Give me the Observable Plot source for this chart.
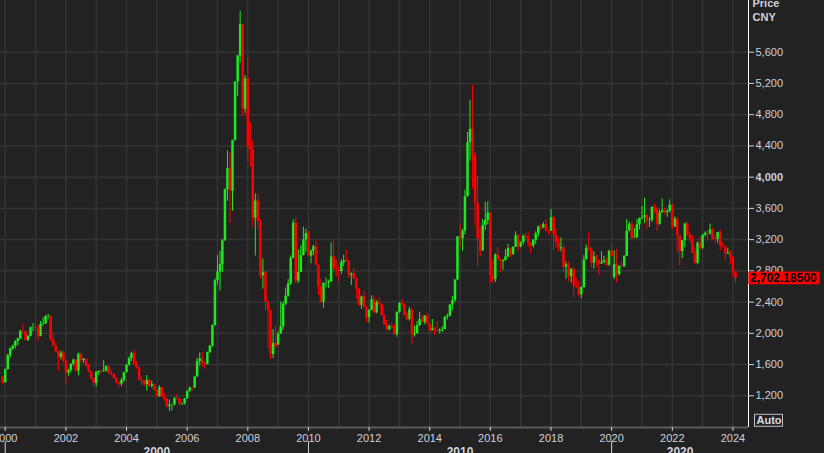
<!DOCTYPE html>
<html><head><meta charset="utf-8">
<script src="https://cdn.jsdelivr.net/npm/d3@7"></script>
<script src="https://cdn.jsdelivr.net/npm/@observablehq/plot@0.6"></script>
<style>
html,body{margin:0;padding:0;background:#222222;overflow:hidden;}
#chart{width:824px;height:453px;}
</style></head><body><div id="chart"></div>
<script>
// Monthly candles of the index, first candle = December 1999
const startYear = 1999, startMonth = 11;
const open = [
1447,
1368,1535,1715,1800,1836,1895,1928,2024,2022,1910,1961,2071,
2073,2066,1959,2113,2119,2214,2218,1920,1834,1765,1690,1747,
1646,1492,1525,1603,1657,1516,1733,1651,1669,1582,1507,1421,
1358,1500,1512,1511,1521,1576,1486,1477,1421,1367,1348,1397,
1497,1591,1675,1742,1596,1556,1399,1386,1342,1397,1321,1341,
1267,1192,1306,1181,1159,1061,1081,1083,1163,1156,1093,1099,
1161,1258,1299,1298,1440,1641,1672,1613,1601,1752,1838,2099,
2675,2786,2881,3184,3841,4110,3821,4471,5219,5552,5955,4872,
5262,4383,4349,3473,3693,3433,2736,2776,2397,2294,1729,1871,
1850,1991,2083,2373,2478,2633,2959,3412,2668,2779,2996,3195,
3277,2989,3052,3109,2871,2592,2398,2638,2639,2656,2979,2820,
2808,2791,2905,2928,2912,2743,2762,2702,2567,2359,2468,2333,
2199,2293,2428,2263,2396,2372,2225,2104,2048,2086,2069,1980,
2269,2385,2366,2237,2178,2301,1979,1994,2098,2175,2142,2221,
2116,2033,2056,2033,2026,2039,2048,2202,2217,2364,2420,2683,
3235,3210,3310,3748,4442,4612,4277,3664,3206,3053,3383,3445,
3539,2738,2688,3004,2938,2917,2930,2979,3085,3005,3100,3250,
3104,3159,3242,3223,3155,3117,3192,3273,3361,3349,3393,3317,
3307,3481,3259,3169,3082,3095,2847,2876,2725,2821,2603,2588,
2494,2585,2941,3091,3078,2899,2979,2933,2886,2905,2929,2872,
3050,2716,2880,2750,2860,2852,2985,3310,3396,3218,3225,3392,
3473,3483,3509,3442,3447,3615,3591,3397,3544,3568,3547,3564,
3640,3361,3462,3252,3047,3186,3399,3253,3202,3024,2893,3151,
3089,3256,3280,3273,3323,3205,3202,3291,3120,3110,3019,3030,
2975,2789
];
const high = [
1452,
1546,1730,1817,1850,1907,1940,2040,2115,2030,1975,2080,2125,
2132,2100,2150,2200,2230,2245,2225,1995,1880,1780,1775,1776,
1650,1540,1612,1670,1665,1748,1740,1680,1675,1600,1520,1430,
1510,1520,1530,1650,1580,1580,1530,1480,1430,1380,1425,1500,
1600,1700,1760,1783,1640,1570,1440,1400,1460,1420,1390,1350,
1270,1330,1310,1230,1160,1146,1090,1180,1225,1170,1105,1165,
1260,1310,1305,1450,1680,1750,1757,1630,1760,1845,2110,2699,
2995,3050,3200,3850,4335,4312,4472,5219,5562,6124,5956,5300,
5522,4696,4473,3786,3786,3459,2953,2801,2410,2300,2051,2100,
2015,2402,2400,2580,2688,2990,3455,3478,3068,3123,3361,3334,
3307,3065,3128,3181,2873,2689,2650,2708,2682,3160,3186,2941,
2856,2942,3001,3067,2932,2773,2827,2710,2570,2478,2536,2338,
2305,2479,2478,2417,2453,2374,2238,2165,2105,2132,2111,2276,
2393,2444,2372,2269,2334,2314,2092,2149,2270,2243,2225,2260,
2120,2177,2076,2146,2061,2088,2218,2248,2364,2474,2683,3239,
3406,3335,3835,4572,4986,5178,4317,4006,3358,3458,3679,3684,
3539,2934,3018,3097,2952,2945,3070,3140,3100,3112,3301,3265,
3174,3262,3284,3295,3157,3200,3301,3374,3392,3418,3450,3318,
3587,3495,3333,3220,3220,3124,2916,2915,2827,2838,2704,2666,
2602,2997,3130,3288,3097,3044,2999,2940,3047,2986,2961,3063,
3128,3058,3074,2861,2915,2995,3458,3426,3425,3347,3456,3474,
3626,3732,3527,3482,3625,3654,3609,3582,3723,3604,3579,3708,
3651,3491,3492,3253,3189,3414,3425,3296,3250,3101,3173,3227,
3268,3300,3322,3398,3347,3258,3292,3322,3164,3117,3090,3060,
2977,2790
];
const low = [
1341,
1361,1527,1680,1775,1800,1840,1920,1990,1900,1895,1955,2020,
2030,1893,1955,2090,2115,2180,1900,1825,1750,1514,1660,1620,
1339,1450,1490,1580,1500,1455,1620,1615,1565,1490,1400,1311,
1312,1460,1480,1500,1500,1480,1450,1410,1355,1307,1316,1370,
1490,1580,1640,1590,1540,1390,1330,1320,1260,1300,1300,1259,
1177,1180,1180,1131,1043,998,1004,1070,1140,1070,1075,1080,
1160,1240,1255,1295,1435,1580,1565,1540,1595,1740,1820,2090,
2617,2541,2780,3180,3690,3404,3563,4460,5033,5460,4778,4812,
4196,4123,3357,2990,3333,2693,2566,2284,1802,1664,1679,1814,
1844,1991,2037,2350,2461,2612,2959,2639,2640,2779,2990,3039,
2987,2890,2995,2862,2481,2382,2319,2580,2573,2656,2774,2721,
2661,2753,2854,2907,2705,2610,2683,2437,2344,2307,2319,2134,
2132,2287,2242,2250,2348,2219,2099,2033,2029,2058,1974,1949,
2254,2339,2216,2162,2161,1849,1951,1987,2084,2134,2110,2108,
1985,2030,1974,2013,1991,2010,2045,2169,2217,2288,2391,2673,
3095,3050,3261,3748,4205,3848,3373,2851,2983,3053,3315,3387,
2638,2639,2649,2930,2781,2807,2929,2961,2969,3005,3100,3045,
3095,3130,3188,3097,3017,3092,3139,3232,3318,3339,3294,3255,
3305,3063,3091,3041,3042,2782,2691,2653,2644,2449,2575,2463,
2440,2578,2939,3046,2838,2821,2846,2733,2885,2893,2857,2857,
2968,2686,2647,2734,2833,2846,2985,3300,3202,3218,3209,3325,
3453,3403,3328,3355,3416,3532,3313,3381,3535,3512,3485,3540,
3329,3357,3023,2863,2954,3096,3240,3155,3021,2885,2885,3054,
3073,3233,3175,3254,3194,3149,3149,3053,3094,2924,3008,2882,
2724,2635
];
const close = [
1367,
1535,1715,1800,1836,1895,1928,2024,2022,1910,1961,2071,2073,
2066,1959,2113,2119,2214,2218,1920,1834,1765,1690,1747,1646,
1492,1525,1603,1657,1516,1733,1651,1669,1582,1507,1421,1358,
1500,1512,1511,1521,1576,1486,1477,1421,1367,1348,1397,1497,
1591,1675,1742,1596,1556,1399,1386,1342,1397,1321,1341,1267,
1192,1306,1181,1159,1061,1081,1083,1163,1156,1093,1099,1161,
1258,1299,1298,1440,1641,1672,1613,1601,1752,1838,2099,2675,
2786,2881,3184,3841,4110,3821,4471,5219,5552,5955,4872,5262,
4383,4349,3473,3693,3433,2736,2776,2397,2294,1729,1871,1821,
1991,2083,2373,2478,2633,2959,3412,2668,2779,2996,3195,3277,
2989,3052,3109,2871,2592,2398,2638,2639,2656,2979,2820,2808,
2791,2905,2928,2912,2743,2762,2702,2567,2359,2468,2333,2199,
2293,2428,2263,2396,2372,2225,2104,2048,2086,2069,1980,2269,
2385,2366,2237,2178,2301,1979,1994,2098,2175,2142,2221,2116,
2033,2056,2033,2026,2039,2048,2202,2217,2364,2420,2683,3235,
3210,3310,3748,4442,4612,4277,3664,3206,3053,3383,3445,3539,
2738,2688,3004,2938,2917,2930,2979,3085,3005,3100,3250,3104,
3159,3242,3223,3155,3117,3192,3273,3361,3349,3393,3317,3307,
3481,3259,3169,3082,3095,2847,2876,2725,2821,2603,2588,2494,
2585,2941,3091,3078,2899,2979,2933,2886,2905,2929,2872,3050,
2977,2880,2750,2860,2852,2985,3310,3396,3218,3225,3392,3473,
3483,3509,3442,3447,3615,3591,3397,3544,3568,3547,3564,3640,
3361,3462,3252,3047,3186,3399,3253,3202,3024,2893,3151,3089,
3256,3280,3273,3323,3205,3202,3291,3120,3110,3019,3030,2975,
2789,2702
];
const lastPrice = 2702.185;
const currencyLabel = ["Price", "CNY"];
const yTicks = [1200, 1600, 2000, 2400, 2800, 3200, 3600, 4000, 4400, 4800, 5200, 5600];
const boldTick = 4000;
const yearLabels = [2000, 2002, 2004, 2006, 2008, 2010, 2012, 2014, 2016, 2018, 2020, 2022, 2024];
const gridYears = d3.range(2000, 2025);
const decades = [2000, 2010, 2020];

const GREEN = "#1ee81e", RED = "#ff0000";
const TEXT = "#cfd1dd", GRID = "#343434";
const utc = (y, m = 0, d = 1) => new Date(Date.UTC(y, m, d));
const xDomain = [utc(1999, 10, 5), utc(2024, 6, 7)];
const yDomain = [794, 6262];

const rows = close.map((c, i) => ({
  date: utc(startYear, startMonth + i, 1),
  open: open[i], high: high[i], low: low[i], close: c
}));
const up = rows.filter(d => d.close >= d.open);
const down = rows.filter(d => d.close < d.open);

const decadeText = decades.map((y, i) => {
  const s = utc(y);
  const e = i < decades.length - 1 ? utc(decades[i + 1]) : xDomain[1];
  return {label: String(y), x: new Date((+s + +e) / 2)};
});

const FONT = "'Liberation Sans', Arial, sans-serif";
const fmt = d3.format(",");
const priceFmt = d3.format(",.5f");

const candle = (data, color) => [
  Plot.ruleX(data, {x: "date", y1: "low", y2: "high", stroke: color, strokeWidth: 1, clip: true}),
  Plot.ruleX(data, {x: "date", y1: "open", y2: "close", stroke: color, strokeWidth: 2.5, clip: true})
];

const chart = Plot.plot({
  width: 824, height: 453,
  marginLeft: 0, marginRight: 76, marginTop: 0, marginBottom: 26,
  style: {background: "#222222", color: TEXT, fontFamily: FONT, fontSize: "11px"},
  x: {type: "utc", domain: xDomain, axis: null},
  y: {domain: yDomain, axis: null},
  marks: [
    Plot.gridY(yTicks, {stroke: GRID, strokeOpacity: 1, strokeWidth: 1.5}),
    Plot.gridX(gridYears.map(y => utc(y)), {stroke: GRID, strokeOpacity: 1, strokeWidth: 1.5}),
    ...candle(up, GREEN),
    ...candle(down, RED),
    Plot.ruleY([yDomain[0]], {stroke: "#5c5c5c", strokeWidth: 2}),
    Plot.ruleX([xDomain[1]], {stroke: "#ffffff", strokeWidth: 1}),
    Plot.axisY(yTicks, {anchor: "right", tickSize: 5, tickPadding: 2, tickFormat: fmt, fontSize: 11}),
    Plot.axisX(yearLabels.map(y => utc(y)), {anchor: "bottom", tickSize: 4, tickPadding: 2.3, tickFormat: d3.utcFormat("%Y"), fontSize: 11}),
    Plot.axisX(decades.map(y => utc(y)), {anchor: "bottom", tickSize: 12, dy: 14, tickFormat: () => ""}),
    Plot.text(decadeText, {x: "x", text: "label", frameAnchor: "bottom", dy: 19.7, lineAnchor: "top", fontWeight: "bold", fontSize: 12, fill: TEXT}),
    Plot.text([currencyLabel[0]], {text: d => d, frameAnchor: "top-right", dx: 4, dy: -1.3, textAnchor: "start", lineAnchor: "top", fontWeight: "bold", fontSize: 11, fill: TEXT}),
    Plot.text([currencyLabel[1]], {text: d => d, frameAnchor: "top-right", dx: 4, dy: 12.7, textAnchor: "start", lineAnchor: "top", fontWeight: "bold", fontSize: 11, fill: TEXT}),
    Plot.text([lastPrice], {y: d => d, text: d => priceFmt(d), frameAnchor: "right", dx: 1.5, textAnchor: "start", lineAnchor: "middle", fontWeight: "bold", fontSize: 12, fill: "#000000"}),
    Plot.text(["Auto"], {text: d => d, frameAnchor: "bottom-right", dx: 20.5, dy: -7, textAnchor: "middle", lineAnchor: "middle", fontWeight: "bold", fontSize: 11, fill: "#dcdde6"})
  ]
});

document.getElementById("chart").appendChild(chart);

// decorations placed with the chart's own scales: bold 4,000 label, red price tag, Auto box
const SVGNS = "http://www.w3.org/2000/svg";
const texts = Array.from(chart.querySelectorAll("text"));
texts.filter(t => t.textContent === fmt(boldTick)).forEach(t => t.setAttribute("font-weight", "bold"));
const xScale = chart.scale("x"), yScale = chart.scale("y");
const frameRight = xScale.apply(xDomain[1]);
const frameBottom = yScale.apply(yDomain[0]);
const markGroup = t => { let g = t; while (g.parentNode && g.parentNode !== chart) g = g.parentNode; return g; };
const priceText = texts.find(t => t.textContent === priceFmt(lastPrice));
if (priceText) {
  const w = priceText.getComputedTextLength();
  const cy = yScale.apply(lastPrice);
  const r = document.createElementNS(SVGNS, "rect");
  r.setAttribute("x", frameRight + 0.3);
  r.setAttribute("width", w + 4.6);
  r.setAttribute("y", cy - 6.4);
  r.setAttribute("height", 12.7);
  r.setAttribute("fill", "#ff0000");
  const g = markGroup(priceText);
  g.parentNode.insertBefore(r, g);
}
const autoText = texts.find(t => t.textContent === "Auto");
if (autoText) {
  const r = document.createElementNS(SVGNS, "rect");
  r.setAttribute("x", frameRight + 6.5);
  r.setAttribute("width", 28);
  r.setAttribute("y", frameBottom - 12.7);
  r.setAttribute("height", 12);
  r.setAttribute("fill", "none");
  r.setAttribute("stroke", "#bfc0c8");
  r.setAttribute("stroke-width", 1);
  const g = markGroup(autoText);
  g.parentNode.insertBefore(r, g);
}
</script>
</body></html>
